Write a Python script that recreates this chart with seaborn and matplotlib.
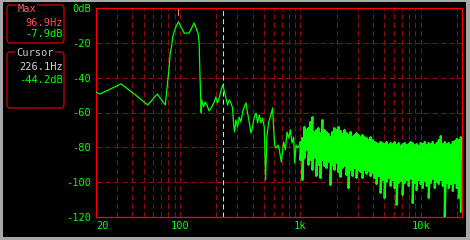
import matplotlib
matplotlib.use("Agg")
import matplotlib.pyplot as plt
import pandas as pd
import seaborn as sns
from matplotlib.patches import Rectangle, FancyBboxPatch
from matplotlib.ticker import NullLocator

# ---------------- data ----------------
line_freq = [20, 21.5, 32.3, 43.1, 53.8, 64.6, 75.4, 77.9, 81.0, 82.5, 85.3, 86.9,
             89.1, 92.1, 96.9, 108.0, 118.9, 130.8, 141.0, 144.0, 146.5, 149.6,
             151.6, 156.4, 161.6, 166.9, 174.4, 183.7, 192.0, 198.4, 204.6, 211.3,
             219.6, 226.1, 234.0, 240.4, 247.9, 256.0, 264.5, 272.9, 278.2, 283.5,
             291.2, 300.3, 310.2, 320.5, 330.6, 341.5, 352.8, 363.8, 375.8, 388.2,
             400.4, 413.6, 427.3, 440.9, 455.3, 470.4, 485.1, 501.2, 513.8, 525.8,
             544.3, 562.3, 587.7, 599.1, 610.7, 627.3, 651.9, 668.3, 694.5, 725.8,
             749.9, 774.8, 798.9, 825.4, 852.7, 879.4, 896.4, 920.8, 949.5, 981.0]
line_db = [-48.2, -49.4, -43.6, -50.2, -55.7, -49.4, -55.7, -45.9, -34.4, -27.0, -21.2, -16.7,
           -13.8, -10.9, -7.9, -14.4, -14.4, -8.6, -14.4, -20.0, -40.0, -60.0,
           -52.8, -56.8, -54.0, -55.7, -59.1, -56.8, -54.0, -51.1, -54.5, -51.7,
           -47.1, -44.2, -48.2, -51.7, -55.7, -52.8, -54.5, -57.4, -66.0, -71.2,
           -64.3, -68.3, -62.6, -65.5, -59.7, -56.8, -54.5, -60.3, -65.5, -71.8,
           -68.3, -62.6, -60.3, -66.0, -61.4, -66.0, -63.2, -68.3, -98.8, -74.6,
           -65.5, -62.6, -57.4, -68.9, -78.7, -80.4, -78.7, -81.5, -88.4, -76.9,
           -81.5, -71.2, -74.6, -70.0, -77.5, -74.1, -89.0, -78.7, -80.4, -78.7]

band_freq = [1000, 1039, 1080, 1122, 1166, 1212, 1259, 1308, 1359, 1413, 1468, 1525,
             1585, 1647, 1711, 1778, 1848, 1920, 1995, 2073, 2154, 2239, 2326, 2417,
             2512, 2610, 2712, 2818, 2929, 3043, 3162, 3286, 3415, 3548, 3687, 3831,
             3981, 4137, 4299, 4467, 4642, 4823, 5012, 5208, 5412, 5623, 5843, 6072,
             6310, 6556, 6813, 7079, 7356, 7644, 7943, 8254, 8577, 8913, 9261, 9624,
             10000, 10391, 10798, 11220, 11659, 12115, 12589, 13082, 13594, 14125,
             14678, 15252, 15849, 16469, 17113, 17783, 18478, 19201, 19953, 20733, 21544]
band_hi = [-76.9, -74.6, -68.3, -70.0, -68.9, -65.5, -62.6, -71.2, -70.0, -68.9, -71.8, -64.3,
           -70.0, -71.2, -72.3, -74.1, -71.2, -68.9, -70.0, -68.3, -70.6, -72.3, -70.0, -71.8,
           -72.9, -71.2, -74.1, -72.9, -71.8, -72.9, -74.1, -72.9, -74.1, -74.6, -75.8, -74.1,
           -75.8, -76.9, -77.5, -78.1, -76.9, -77.5, -78.1, -76.9, -78.7, -77.5, -78.1, -76.9,
           -78.7, -77.5, -79.2, -78.1, -77.5, -78.7, -78.1, -76.9, -77.5, -78.7, -78.1, -79.2,
           -77.5, -78.1, -76.9, -78.7, -77.5, -78.1, -76.9, -78.7, -77.5, -75.8,
           -73.5, -78.1, -76.9, -78.1, -77.5, -78.7, -76.9, -76.4, -75.2, -75.8, -74.1]
band_lo = [-87.3, -98.8, -86.1, -81.5, -90.1, -87.3, -93.0, -86.1, -96.5, -90.1, -97.6, -87.3,
           -90.7, -91.9, -88.4, -101.6, -90.1, -93.0, -89.0, -94.2, -97.0, -91.9, -90.7, -95.9,
           -103.4, -93.0, -96.5, -91.9, -97.6, -93.0, -94.2, -97.6, -93.0, -95.3, -93.6, -96.5,
           -94.7, -97.6, -101.1, -96.5, -106.2, -98.8, -109.1, -99.9, -97.6, -102.2, -98.8, -103.4,
           -113.1, -100.5, -99.3, -107.4, -100.5, -98.8, -102.2, -98.2, -112.0, -100.5, -104.5, -98.8,
           -101.1, -103.4, -99.3, -102.2, -109.1, -100.5, -98.2, -103.4, -99.9, -101.1,
           -98.8, -102.2, -120.0, -100.5, -103.4, -101.1, -105.1, -100.5, -103.4, -109.1, -117.1]

y_ticks = [0, -20, -40, -60, -80, -100, -120]
y_labels = ["0dB", "-20", "-40", "-60", "-80", "-100", "-120"]
x_ticks = [20, 100, 1000, 10000]
x_labels = ["20", "100", "1k", "10k"]
grid_x = [30, 40, 50, 60, 70, 80, 90, 100, 200, 300, 400, 500, 600, 700, 800, 900,
          1000, 2000, 3000, 4000, 5000, 6000, 7000, 8000, 9000, 10000, 20000]
grid_y = [-20, -40, -60, -80, -100]
max_freq, max_db = 96.9, -7.9
cursor_freq, cursor_db = 226.1, -44.2

# ---------------- build the tables ----------------
line_df = pd.DataFrame({"freq": line_freq + [band_freq[0]], "db": line_db + [band_hi[0]]})
bf, bd = [], []
for f, hi, lo in zip(band_freq, band_hi, band_lo):
    bf += [f, f]
    bd += [hi, lo]
band_df = pd.DataFrame({"freq": bf, "db": bd})

# ---------------- style ----------------
sns.set_theme(style="dark")
plt.rcParams["font.family"] = ["DejaVu Sans Mono"]
plt.rcParams["lines.scale_dashes"] = False

W, H = 470, 240
fig = plt.figure(figsize=(4.7, 2.4), dpi=100, facecolor="#a8a8a8")
fig.patches.append(Rectangle((3 / W, 3 / H), 463 / W, 235 / H, transform=fig.transFigure,
                             facecolor="black", edgecolor="none", zorder=-10))

ax = fig.add_axes([96 / W, 23 / H, 366 / W, 209 / H])
ax.set_zorder(1)
ax.set_facecolor("black")
ax.set_xscale("log")
ax.set_xlim(20, 22050)
ax.set_ylim(-120, 0)

grid_kw = dict(color="#8c0c0c", lw=0.75, ls=(0, (4.0, 2.2)), zorder=1)
for gx in grid_x:
    ax.axvline(gx, **grid_kw)
for gy in grid_y:
    ax.axhline(gy, **grid_kw)

ax.axvline(cursor_freq, color="#d8d8d8", lw=0.75, ls=(0, (3.6, 2.2)), zorder=2)
ax.plot([max_freq, max_freq], [0, -4], color="#ff7070", lw=0.8, zorder=2)

sns.lineplot(data=line_df, x="freq", y="db", sort=False, estimator=None,
             color="#00ff00", lw=0.9, ax=ax, zorder=3)
sns.lineplot(data=band_df, x="freq", y="db", sort=False, estimator=None,
             color="#00ff00", lw=1.5, ax=ax, zorder=3)

ax.set_xlabel("")
ax.set_ylabel("")
ax.grid(False)
ax.xaxis.set_minor_locator(NullLocator())
ax.set_xticks(x_ticks)
ax.set_xticklabels(x_labels)
ax.set_yticks(y_ticks)
ax.set_yticklabels(y_labels)
ax.get_xticklabels()[0].set_ha("left")
ax.tick_params(axis="both", which="major", direction="out", length=2.2, width=0.8,
               color="#ff0000", labelcolor="#00ff00", labelsize=7.5, pad=1)
ax.tick_params(axis="y", pad=1.2)
for sp in ax.spines.values():
    sp.set_color("#ff0000")
    sp.set_linewidth(0.9)
    sp.set_visible(True)


def fx(x):
    return x / W


def fy(y):
    return 1 - y / H


def box(x0, y0, x1, y1):
    p = FancyBboxPatch((fx(x0), fy(y1)), (x1 - x0) / W, (y1 - y0) / H,
                       boxstyle="round,pad=0,rounding_size=%f" % (3 / W),
                       mutation_aspect=W / H, transform=fig.transFigure,
                       facecolor="none", edgecolor="#ee0000", lw=0.8, zorder=2)
    fig.patches.append(p)


box(7, 5, 64, 43)
box(7, 52, 64, 108)

txt = dict(fontsize=7.5, va="center", zorder=5)
fig.text(fx(27), fy(9), "Max", ha="center", color="#ff6060",
         bbox=dict(facecolor="black", edgecolor="none", pad=0.6), **txt)
fig.text(fx(62.5), fy(23), "%.1fHz" % max_freq, ha="right", color="#ff5050", **txt)
fig.text(fx(62.5), fy(34), "%.1fdB" % max_db, ha="right", color="#00ff00", **txt)
fig.text(fx(35), fy(53), "Cursor", ha="center", color="#c8c8c8",
         bbox=dict(facecolor="black", edgecolor="none", pad=0.6), **txt)
fig.text(fx(62.5), fy(67), "%.1fHz" % cursor_freq, ha="right", color="#d0d0d0", **txt)
fig.text(fx(62.5), fy(80), "%.1fdB" % cursor_db, ha="right", color="#00ff00", **txt)

fig.savefig("out.png", dpi=100, facecolor=fig.get_facecolor())
